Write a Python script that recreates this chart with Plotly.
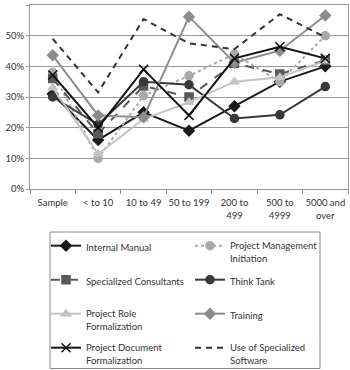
import plotly.graph_objects as go

categories = ["Sample", "< to 10", "10 to 49", "50 to 199", "200 to<br>499", "500 to<br>4999", "5000 and<br>over"]

internal_manual = [31, 16, 25, 19, 27, 35, 40]
pm_initiation = [38, 10, 30.4, 36.9, 44, 35, 50]
spec_consultants = [36, 18, 33.6, 30, 41, 37.5, 42]
think_tank = [30, 21, 35, 34, 23, 24.2, 33.4]
role_formal = [33, 11.4, 22.8, 28.3, 35, 36.4, 41.8]
training = [43.6, 24, 23.4, 56.2, 41.2, 45.1, 56.6]
doc_formal = [37.2, 20, 39, 24, 42.6, 46.4, 42.6]
spec_software = [49, 31.5, 55.4, 47.5, 45.6, 57, 49.5]

y_ticks = [0, 10, 20, 30, 40, 50, 60]
y_tick_labels = ["0%", "10%", "20%", "30%", "40%", "50%", "60%"]

series = [
    ("Internal Manual", internal_manual, "#1a1a1a", "solid", "diamond", 8),
    ("Project Management<br>Initiation", pm_initiation, "#a9a9a9", "dot", "circle", 8),
    ("Specialized Consultants", spec_consultants, "#595959", "dash", "square", 8),
    ("Think Tank", think_tank, "#383838", "solid", "circle", 8),
    ("Project Role<br>Formalization", role_formal, "#c4c4c4", "solid", "triangle-up", 8),
    ("Training", training, "#8c8c8c", "solid", "diamond", 8),
    ("Project Document<br>Formalization", doc_formal, "#111111", "solid", "x-thin-open", 9),
    ("Use of Specialized<br>Software", spec_software, "#333333", "dash", None, 0),
]

FONT = "Lato"
W, H = 350, 370

fig = go.Figure()
legend_layouts = {}
for i, (name, vals, color, dash, sym, size) in enumerate(series):
    lname = "legend" if i == 0 else f"legend{i + 1}"
    col, row = i % 2, i // 2
    left_px = 46 if col == 0 else 190
    top_px = 233 + row * 34
    legend_layouts[lname] = dict(
        x=left_px / W, y=1 - top_px / H, xref="container", yref="container",
        xanchor="left", yanchor="top", bgcolor="rgba(0,0,0,0)", borderwidth=0,
        font=dict(family=FONT, size=9.5, color="#333333"), valign="top",
        itemwidth=30,
    )
    if sym is None:
        fig.add_trace(go.Scatter(x=categories, y=vals, name=name, mode="lines",
                                 legend=lname,
                                 line=dict(color=color, width=2, dash="6px,5px")))
    else:
        fig.add_trace(go.Scatter(x=categories, y=vals, name=name, mode="lines+markers",
                                 legend=lname,
                                 line=dict(color=color, width=2, dash=dash),
                                 marker=dict(symbol=sym, size=size, color=color,
                                             line=dict(color=color, width=1.5))))

fig.update_layout(
    width=W, height=H,
    margin=dict(l=30, r=2, t=5, b=181, autoexpand=False),
    paper_bgcolor="white", plot_bgcolor="white",
    font=dict(family=FONT, size=9.5, color="#333333"),
    showlegend=True,
    xaxis=dict(
        type="category", tickson="boundaries", ticks="outside", ticklen=4,
        tickcolor="#888888", showgrid=False, showline=True, linecolor="#999999",
        mirror=True, tickfont=dict(size=9.5), range=[-0.5, 6.5], tickangle=0,
        ticklabelstandoff=5,
    ),
    yaxis=dict(
        range=[0, 60], tickvals=y_ticks, ticktext=y_tick_labels,
        showgrid=True, gridcolor="#999999", gridwidth=1,
        showline=True, linecolor="#999999", mirror=True,
        ticks="outside", ticklen=3, tickcolor="#999999",
        tickfont=dict(size=9.5), zeroline=False,
    ),
    shapes=[dict(type="rect", xref="paper", yref="paper",
                 x0=(50 - 30) / 318, x1=(320 - 30) / 318,
                 y0=(189 - 368.5) / 184, y1=(189 - 232) / 184,
                 line=dict(color="#888888", width=1), fillcolor="rgba(0,0,0,0)")],
    **legend_layouts,
)

fig.write_html("out.html")
